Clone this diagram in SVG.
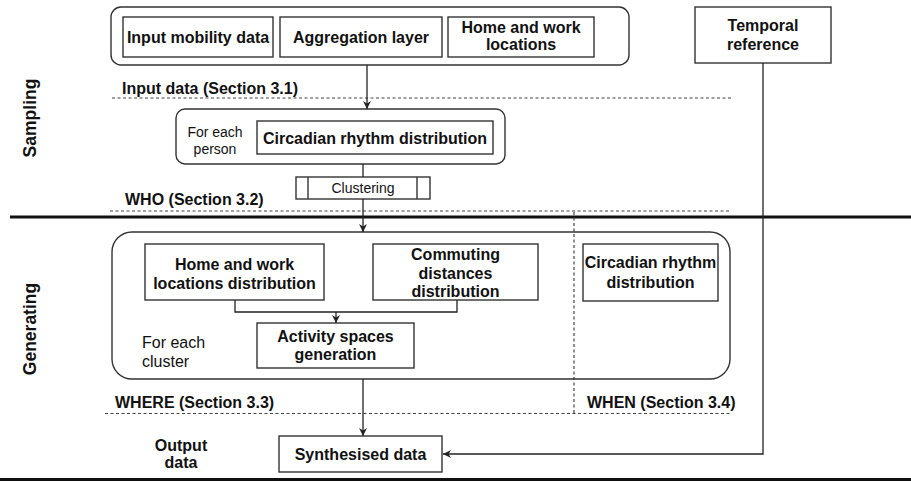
<svg xmlns="http://www.w3.org/2000/svg" width="911" height="482" viewBox="0 0 911 482">
<style>
  .box { fill: #fff; stroke: #333; stroke-width: 1.4; }
  .cont { fill: none; stroke: #333; stroke-width: 1.4; }
  .b { font-family: "Liberation Sans", Arial, sans-serif; font-weight: bold; font-size: 16px; fill: #111; }
  .r { font-family: "Liberation Sans", Arial, sans-serif; font-size: 14px; fill: #111; }
  .r16 { font-family: "Liberation Sans", Arial, sans-serif; font-size: 16px; fill: #111; }
  .side { font-family: "Liberation Sans", Arial, sans-serif; font-weight: bold; font-size: 17.5px; fill: #111; }
  .c { text-anchor: middle; }
  .dash { stroke: #444; stroke-width: 1.2; stroke-dasharray: 3 2.5; fill: none; }
  .thick { stroke: #111; stroke-width: 3; }
  .edge { stroke: #222; stroke-width: 1.3; fill: none; }
</style>
<defs>
  <marker id="arr" viewBox="0 0 10 10" refX="10" refY="5" markerWidth="8" markerHeight="8" orient="auto" markerUnits="userSpaceOnUse">
    <path d="M0,0 L10,5 L0,10 L3,5 z" fill="#222"/>
  </marker>
</defs>

<g id="phases">
  <text class="side c" transform="translate(36,118) rotate(-90)">Sampling</text>
  <text class="side c" transform="translate(36,329) rotate(-90)">Generating</text>
  <line class="thick" x1="10" y1="217" x2="911" y2="217"/>
  <line class="thick" x1="0" y1="479.5" x2="911" y2="479.5"/>
</g>

<g id="sections">
  <text class="b" x="122" y="94">Input data (Section 3.1)</text>
  <line class="dash" x1="112" y1="98" x2="731" y2="98"/>
  <text class="b" x="125" y="205">WHO (Section 3.2)</text>
  <line class="dash" x1="110" y1="211" x2="731" y2="211"/>
  <text class="b" x="115" y="408">WHERE (Section 3.3)</text>
  <text class="b" x="587" y="408">WHEN (Section 3.4)</text>
  <line class="dash" x1="105" y1="413.5" x2="731" y2="413.5"/>
  <line class="dash" x1="574" y1="212" x2="574" y2="413.5"/>
</g>

<g id="input-container">
  <rect class="cont" x="111" y="7" width="518" height="58" rx="10"/>
</g>
<g id="input-mobility-data">
  <rect class="box" x="123" y="17" width="150" height="40"/>
  <text class="b c" x="198" y="43">Input mobility data</text>
</g>
<g id="aggregation-layer">
  <rect class="box" x="280" y="17" width="162" height="40"/>
  <text class="b c" x="361" y="43">Aggregation layer</text>
</g>
<g id="home-work-locations">
  <rect class="box" x="448" y="17" width="146" height="40"/>
  <text class="b c" x="521" y="33">Home and work</text>
  <text class="b c" x="521" y="50">locations</text>
</g>

<g id="temporal-reference">
  <rect class="box" x="695" y="7" width="136" height="56"/>
  <text class="b c" x="763" y="31">Temporal</text>
  <text class="b c" x="763" y="50">reference</text>
</g>

<g id="person-container">
  <rect class="cont" x="176" y="109" width="329" height="55" rx="9"/>
  <text class="r c" x="215" y="137">For each</text>
  <text class="r c" x="215" y="154">person</text>
</g>
<g id="circadian-sampling">
  <rect class="box" x="257" y="121" width="236" height="33"/>
  <text class="b c" x="375" y="144">Circadian rhythm distribution</text>
</g>

<g id="clustering">
  <rect class="box" x="296" y="177" width="134" height="22"/>
  <line class="cont" x1="308" y1="177" x2="308" y2="199"/>
  <line class="cont" x1="417" y1="177" x2="417" y2="199"/>
  <text class="r c" x="363" y="193">Clustering</text>
</g>

<g id="cluster-container">
  <rect class="cont" x="112" y="232" width="618" height="147" rx="20"/>
  <text class="r16" x="142" y="348">For each</text>
  <text class="r16" x="142" y="367">cluster</text>
</g>
<g id="home-work-distribution">
  <rect class="box" x="145" y="244" width="179" height="56"/>
  <text class="b c" x="234.5" y="270">Home and work</text>
  <text class="b c" x="234.5" y="289">locations distribution</text>
</g>
<g id="commuting-distances">
  <rect class="box" x="373" y="244" width="165" height="56"/>
  <text class="b c" x="455.5" y="260">Commuting</text>
  <text class="b c" x="455.5" y="279">distances</text>
  <text class="b c" x="455.5" y="297">distribution</text>
</g>
<g id="activity-spaces">
  <rect class="box" x="257" y="323" width="157" height="45"/>
  <text class="b c" x="335.5" y="342">Activity spaces</text>
  <text class="b c" x="335.5" y="360">generation</text>
</g>
<g id="circadian-generating">
  <rect class="box" x="583" y="244" width="135" height="57"/>
  <text class="b c" x="650.5" y="268">Circadian rhythm</text>
  <text class="b c" x="650.5" y="288">distribution</text>
</g>

<g id="output-label">
  <text class="b c" x="181" y="451">Output</text>
  <text class="b c" x="181" y="468">data</text>
</g>
<g id="synthesised-data">
  <rect class="box" x="279" y="436" width="163" height="36"/>
  <text class="b c" x="360.5" y="460">Synthesised data</text>
</g>

<g id="connectors">
  <line class="edge" x1="367" y1="65" x2="367" y2="109" marker-end="url(#arr)"/>
  <line class="edge" x1="363" y1="164" x2="363" y2="177"/>
  <line class="edge" x1="363" y1="199" x2="363" y2="232" marker-end="url(#arr)"/>
  <polyline class="edge" points="235,300 235,312 457,312 457,300"/>
  <line class="edge" x1="336" y1="312" x2="336" y2="323" marker-end="url(#arr)"/>
  <line class="edge" x1="363" y1="379" x2="363" y2="436" marker-end="url(#arr)"/>
  <polyline class="edge" points="763,63 763,454 443,454" marker-end="url(#arr)"/>
</g>
</svg>
